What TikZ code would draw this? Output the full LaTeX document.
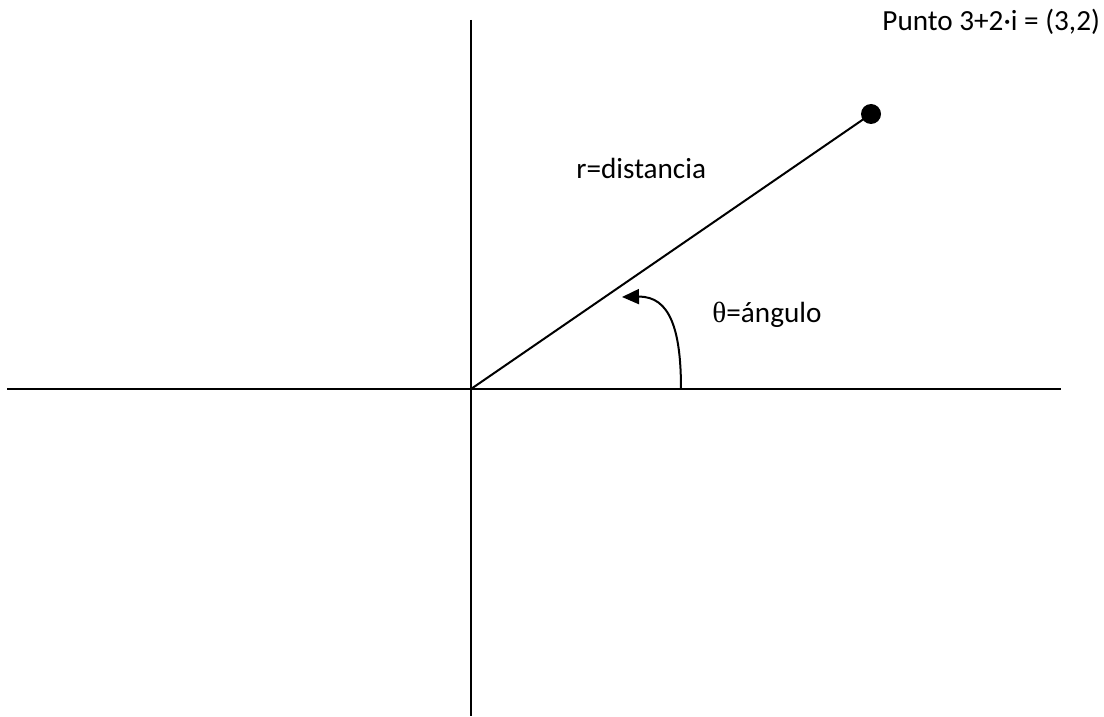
\documentclass[tikz,border=0pt]{standalone}
\usepackage{fontspec}
\setmainfont{Carlito}
\newfontfamily\symfont{Liberation Serif}
\usetikzlibrary{arrows.meta}
\begin{document}
\begin{tikzpicture}[x=0.5pt,y=-0.5pt,
  axis/.style={line width=1pt,black},
  lbl/.style={anchor=base west,inner sep=0pt,font=\fontsize{14.6}{17}\selectfont}]
\useasboundingbox (0,0) rectangle (1104,717);
\coordinate (o) at (471,389);
\coordinate (ytop) at (471,20);
\coordinate (ybot) at (471,716);
\coordinate (xl) at (7,389);
\coordinate (xr) at (1061,389);
\coordinate (as) at (681,389);
\coordinate (ae) at (622,297);
\draw[axis] (ytop) -- (ybot);
\draw[axis] (xl) -- (xr);
\node[circle,fill=black,minimum size=10pt,inner sep=0pt] (p) at (871,114) {};
\draw[axis] (o) -- (p.center);
\draw[axis,-{Triangle[length=8.5pt,width=7.5pt]}] (as) .. controls (681,330) and (670,296) .. (ae);
\node[lbl] (t1) at (882,31) {Punto 3+2·i = (3,2)};
\node[lbl] (t2) at (576,178) {r=distancia};
\node[lbl] (t3) at (712,322) {{\symfont θ}=ángulo};
\end{tikzpicture}
\end{document}
